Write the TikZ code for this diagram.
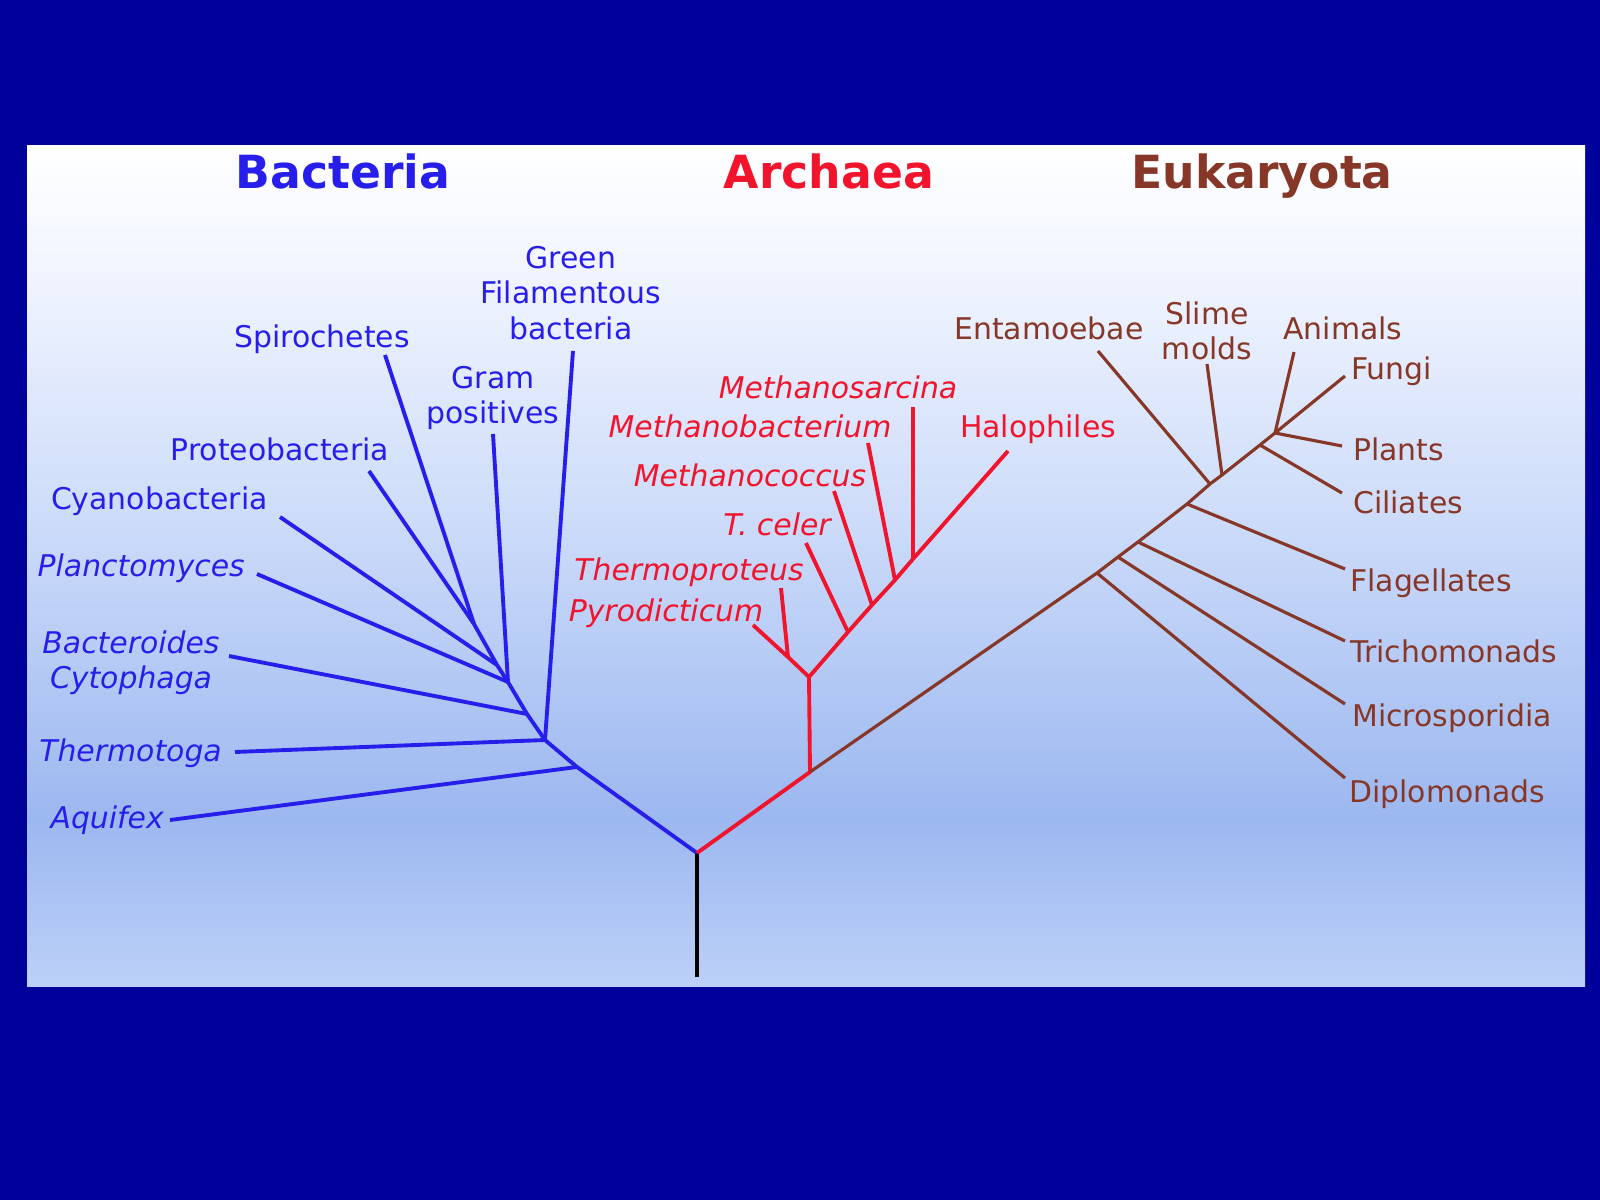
\documentclass[tikz,border=0pt]{standalone}
\usepackage{fontspec}
\setmainfont{DejaVu Sans}[ItalicFont={DejaVu Sans Oblique},BoldFont={DejaVu Sans Bold}]
\usepackage{tikz}

\definecolor{slideblue}{RGB}{0,0,155}
\definecolor{bacblue}{RGB}{40,30,235}
\definecolor{arcred}{RGB}{240,20,45}
\definecolor{eukbrown}{RGB}{135,55,40}
\definecolor{panelbot}{RGB}{188,208,248}
\definecolor{paneldeep}{RGB}{156,184,240}
\definecolor{panelmid}{RGB}{208,222,250}
\definecolor{paneltop}{RGB}{244,247,255}

\pgfdeclareverticalshading{panelfade}{100bp}{color(0bp)=(panelbot); color(25bp)=(panelbot);
  color(35bp)=(paneldeep); color(54bp)=(panelmid); color(69bp)=(paneltop);
  color(75bp)=(white); color(100bp)=(white)}

\begin{document}
\begin{tikzpicture}[x=0.1mm,y=-0.1mm,
  lbl/.style={inner sep=1pt,font=\fontsize{8.5}{10}\selectfont},
  itlbl/.style={lbl,font=\fontsize{8.5}{10}\selectfont\itshape},
  title/.style={inner sep=0pt,anchor=base,font=\fontsize{13}{15}\selectfont\bfseries},
  bacline/.style={draw=bacblue,line width=1.1pt,line join=round},
  arcline/.style={draw=arcred,line width=1.1pt,line join=round},
  eukline/.style={draw=eukbrown,line width=0.9pt,line join=round}]
% Slide and panel
\fill[slideblue] (0,0) rectangle (1600,1200);
\shade[shading=panelfade] (27,146) rectangle (1585,986);

% Titles
\node[title,bacblue] (bacteria) at (343,189) {Bacteria};
\node[title,arcred] (archaea) at (829,189) {Archaea};
\node[title,eukbrown] (eukaryota) at (1262,189) {Eukaryota};

% Root
\coordinate (root) at (697,977);
\coordinate (r0) at (697,853);
\draw[black,line width=1.3pt] (root) -- (r0);

% Bacteria
\coordinate (b0) at (577,767);
\coordinate (b1) at (545,740);
\coordinate (b2) at (527,714);
\coordinate (b3) at (508,682);
\coordinate (b4) at (497,665);
\coordinate (b5) at (474,624);
\coordinate (t-aqu) at (170,820);
\coordinate (t-the) at (235,752);
\coordinate (t-gre) at (573,351);
\coordinate (t-bac) at (229,656);
\coordinate (t-pla) at (257,574);
\coordinate (t-gra) at (493,434);
\coordinate (t-cya) at (280,517);
\coordinate (t-pro) at (369,471);
\coordinate (t-spi) at (385,355);
\draw[bacline] (r0) -- (b0) -- (b1) -- (b2) -- (b3) -- (b4) -- (b5);
\draw[bacline] (b0) -- (t-aqu);
\draw[bacline] (b1) -- (t-the);
\draw[bacline] (b1) -- (t-gre);
\draw[bacline] (b2) -- (t-bac);
\draw[bacline] (b3) -- (t-pla);
\draw[bacline] (b3) -- (t-gra);
\draw[bacline] (b4) -- (t-cya);
\draw[bacline] (b5) -- (t-pro);
\draw[bacline] (b5) -- (t-spi);
\node[lbl,bacblue,align=center] (green) at (571,293) {Green\\Filamentous\\bacteria};
\node[lbl,bacblue,anchor=base] (spiro) at (322,347) {Spirochetes};
\node[lbl,bacblue,align=center] (gram) at (493,398) {Gram\\positives};
\node[lbl,bacblue,anchor=base] (proteo) at (280,461) {Proteobacteria};
\node[lbl,bacblue,anchor=base east] (cyano) at (272,510) {Cyanobacteria};
\node[itlbl,bacblue,anchor=base east] (plancto) at (249,576) {Planctomyces};
\node[itlbl,bacblue,align=center] (bactero) at (131,663) {Bacteroides\\Cytophaga};
\node[itlbl,bacblue,anchor=base east] (thermotoga) at (226,761) {Thermotoga};
\node[itlbl,bacblue,anchor=base east] (aquifex) at (168,828) {Aquifex};

% Archaea
\coordinate (a0) at (810,772);
\coordinate (a1) at (809,677);
\coordinate (a2) at (788,657);
\coordinate (a3) at (848,632);
\coordinate (a4) at (872,605);
\coordinate (a5) at (895,580);
\coordinate (a6) at (913,559);
\coordinate (t-pyr) at (753,625);
\coordinate (t-thp) at (781,588);
\coordinate (t-tce) at (806,543);
\coordinate (t-mco) at (834,491);
\coordinate (t-mba) at (868,443);
\coordinate (t-msa) at (913,407);
\coordinate (t-hal) at (1008,451);
\draw[arcline] (r0) -- (a0) -- (a1) -- (a2) -- (t-pyr);
\draw[arcline] (a2) -- (t-thp);
\draw[arcline] (a1) -- (a3) -- (a4) -- (a5) -- (a6) -- (t-hal);
\draw[arcline] (a3) -- (t-tce);
\draw[arcline] (a4) -- (t-mco);
\draw[arcline] (a5) -- (t-mba);
\draw[arcline] (a6) -- (t-msa);
\node[itlbl,arcred,anchor=base] (msarcina) at (838,399) {Methanosarcina};
\node[itlbl,arcred,anchor=base] (mbacterium) at (750,437) {Methanobacterium};
\node[itlbl,arcred,anchor=base] (mcoccus) at (750,486) {Methanococcus};
\node[itlbl,arcred,anchor=base] (tceler) at (777,535) {T. celer};
\node[itlbl,arcred,anchor=base] (thermoproteus) at (689,580) {Thermoproteus};
\node[itlbl,arcred,anchor=base] (pyro) at (666,621) {Pyrodicticum};
\node[lbl,arcred,anchor=base] (halo) at (1038,438) {Halophiles};

% Eukaryota
\coordinate (e1) at (1097,573);
\coordinate (e2) at (1118,557);
\coordinate (e3) at (1138,542);
\coordinate (e4) at (1187,504);
\coordinate (e5) at (1210,484);
\coordinate (e6) at (1222,475);
\coordinate (e7) at (1260,445);
\coordinate (e8) at (1275,433);
\coordinate (t-dip) at (1345,778);
\coordinate (t-mic) at (1345,704);
\coordinate (t-tri) at (1345,641);
\coordinate (t-fla) at (1345,569);
\coordinate (t-ent) at (1098,351);
\coordinate (t-sli) at (1207,364);
\coordinate (t-cil) at (1342,493);
\coordinate (t-pla2) at (1342,446);
\coordinate (t-ani) at (1294,352);
\coordinate (t-fun) at (1345,376);
\draw[eukline] (a0) -- (e1) -- (e2) -- (e3) -- (e4) -- (e5) -- (e6) -- (e7) -- (e8);
\draw[eukline] (e1) -- (t-dip);
\draw[eukline] (e2) -- (t-mic);
\draw[eukline] (e3) -- (t-tri);
\draw[eukline] (e4) -- (t-fla);
\draw[eukline] (e5) -- (t-ent);
\draw[eukline] (e6) -- (t-sli);
\draw[eukline] (e7) -- (t-cil);
\draw[eukline] (e8) -- (t-pla2);
\draw[eukline] (e8) -- (t-ani);
\draw[eukline] (e8) -- (t-fun);
\node[lbl,eukbrown,anchor=base] (entamoebae) at (1049,340) {Entamoebae};
\node[lbl,eukbrown,align=center] (slime) at (1207,331) {Slime\\molds};
\node[lbl,eukbrown,anchor=base] (animals) at (1343,340) {Animals};
\node[lbl,eukbrown,anchor=base west] (fungi) at (1347,379) {Fungi};
\node[lbl,eukbrown,anchor=base west] (plants) at (1349,461) {Plants};
\node[lbl,eukbrown,anchor=base west] (ciliates) at (1349,513) {Ciliates};
\node[lbl,eukbrown,anchor=base west] (flagellates) at (1346,591) {Flagellates};
\node[lbl,eukbrown,anchor=base west] (tricho) at (1346,662) {Trichomonads};
\node[lbl,eukbrown,anchor=base west] (micro) at (1348,726) {Microsporidia};
\node[lbl,eukbrown,anchor=base west] (diplo) at (1345,802) {Diplomonads};
\end{tikzpicture}
\end{document}
